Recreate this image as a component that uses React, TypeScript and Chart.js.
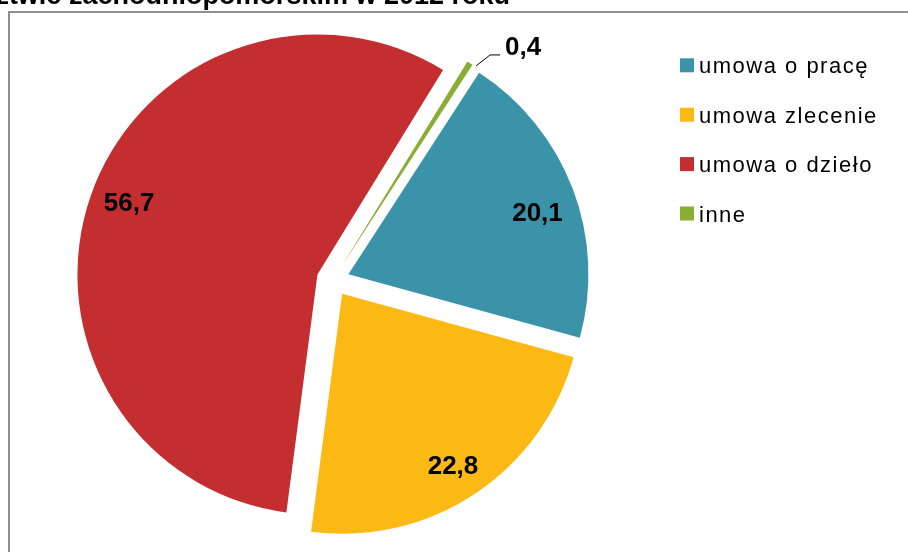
import React, { useEffect, useRef } from 'react';
import { Chart, registerables } from 'chart.js';

Chart.register(...registerables);

const categories = ['umowa o pracę', 'umowa zlecenie', 'umowa o dzieło', 'inne'];
const shares = [20.1, 22.8, 56.7, 0.4];
const sliceColors = ['#3A93A8', '#FDB913', '#C42E30', '#8AAD34'];
const titleText = 'w województwie zachodniopomorskim w 2012 roku';

const FONT = '"Liberation Sans", Arial, sans-serif';

// style: explosion distance and label placement inside each slice
const EXPLODE = 16.5;
const labelAngleFrac = [0.543, 0.512, 0.505, 0.5];
const labelRadiusFrac = [0.827, 0.857, 0.838, 1];

const fmt = (v: number) => v.toFixed(1).replace('.', ',');

const explodePlugin = {
  id: 'explode',
  afterDatasetUpdate(chart: any, args: any) {
    const meta = args.meta;
    meta.data.forEach((arc: any) => {
      const mid = (arc.startAngle + arc.endAngle) / 2;
      arc.x += Math.cos(mid) * EXPLODE;
      arc.y += Math.sin(mid) * EXPLODE;
    });
  },
};

const decorPlugin = {
  id: 'decor',
  beforeDraw(chart: any) {
    const ctx = chart.ctx;
    ctx.save();
    ctx.fillStyle = '#ffffff';
    ctx.fillRect(0, 0, chart.width, chart.height);
    // frame
    ctx.strokeStyle = '#8f8f8f';
    ctx.lineWidth = 2;
    ctx.beginPath();
    ctx.moveTo(9, chart.height + 10);
    ctx.lineTo(9, 12);
    ctx.lineTo(chart.width + 10, 12);
    ctx.stroke();
    // title (mostly above the visible area)
    ctx.fillStyle = '#000';
    ctx.font = `bold 27px ${FONT}`;
    ctx.textAlign = 'right';
    ctx.textBaseline = 'alphabetic';
    ctx.fillText(titleText, 510, 3.5);
    ctx.restore();
  },
  afterDraw(chart: any) {
    const ctx = chart.ctx;
    const meta = chart.getDatasetMeta(0);
    ctx.save();
    ctx.fillStyle = '#000';
    ctx.font = `bold 26px ${FONT}`;
    meta.data.forEach((arc: any, i: number) => {
      const text = fmt(shares[i]);
      const r = arc.outerRadius;
      if (shares[i] < 2) {
        const sx = arc.x + Math.cos(arc.endAngle) * (r + 1) + 3;
        const sy = arc.y + Math.sin(arc.endAngle) * (r + 1) + 2;
        ctx.strokeStyle = '#000';
        ctx.lineWidth = 1;
        ctx.beginPath();
        ctx.moveTo(sx, sy);
        ctx.lineTo(sx + 14, sy - 11);
        ctx.lineTo(sx + 24, sy - 11);
        ctx.stroke();
        ctx.textAlign = 'left';
        ctx.textBaseline = 'alphabetic';
        ctx.fillText(text, sx + 29, sy - 11);
      } else {
        const a = arc.startAngle + (arc.endAngle - arc.startAngle) * labelAngleFrac[i];
        const lr = r * labelRadiusFrac[i];
        ctx.textAlign = 'center';
        ctx.textBaseline = 'middle';
        ctx.fillText(text, arc.x + Math.cos(a) * lr, arc.y + Math.sin(a) * lr);
      }
    });
    // legend
    ctx.font = `22px ${FONT}`;
    (ctx as any).letterSpacing = '1.5px';
    ctx.textAlign = 'left';
    ctx.textBaseline = 'alphabetic';
    categories.forEach((c, i) => {
      const base = 73.3 + i * 49.4;
      ctx.fillStyle = sliceColors[i];
      ctx.fillRect(680, base - 15, 14, 14);
      ctx.fillStyle = '#000';
      ctx.fillText(c, 699, base);
    });
    (ctx as any).letterSpacing = '0px';
    ctx.restore();
  },
};

export default function App() {
  const ref = useRef<HTMLCanvasElement>(null);
  useEffect(() => {
    const chart = new Chart(ref.current as HTMLCanvasElement, {
      type: 'pie',
      data: {
        labels: categories,
        datasets: [
          {
            data: shares,
            backgroundColor: sliceColors,
            borderWidth: 0,
          } as any,
        ],
      },
      options: {
        responsive: false,
        animation: false,
        rotation: 33,
        radius: 240,
        layout: { padding: { left: 0, right: 242, top: 8, bottom: 0 } },
        plugins: {
          legend: { display: false },
          tooltip: { enabled: false },
          title: { display: false },
        },
      } as any,
      plugins: [explodePlugin, decorPlugin],
    });
    return () => chart.destroy();
  }, []);
  return (
    <div style={{ position: 'absolute', left: 0, top: 0, width: 908, height: 552, background: '#fff' }}>
      <canvas ref={ref} width={908} height={552} style={{ display: 'block' }} />
    </div>
  );
}
